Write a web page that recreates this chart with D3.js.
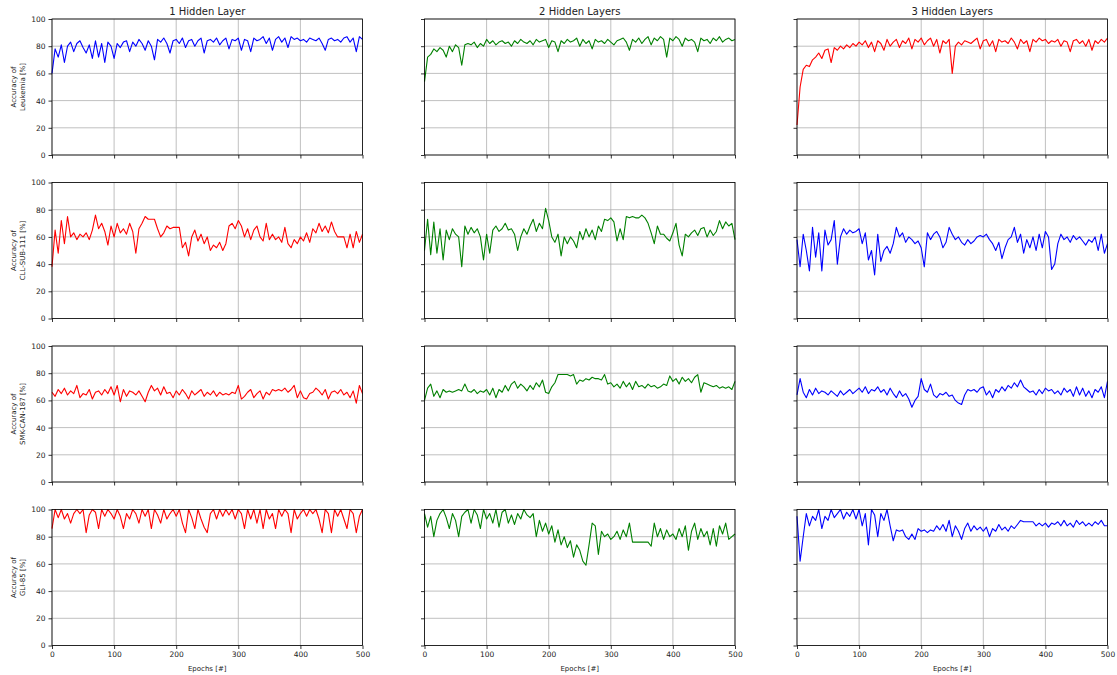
<!DOCTYPE html>
<html>
<head>
<meta charset="utf-8">
<script src="https://cdn.jsdelivr.net/npm/d3@7"></script>
<style>
  body { margin: 0; background: #fff; }
  text { font-family: "DejaVu Sans", sans-serif; fill: #222; }
</style>
</head>
<body>
<script>
// column titles, row labels and tick values
const colTitles = ['1 Hidden Layer', '2 Hidden Layers', '3 Hidden Layers'];
const rowLabels = [
  ['Accuracy of', 'Leukemia [%]'],
  ['Accuracy of', 'CLL-SUB-111 [%]'],
  ['Accuracy of', 'SMK-CAN-187 [%]'],
  ['Accuracy of', 'GLI-85 [%]']
];
const yTicks = [0, 20, 40, 60, 80, 100];
const xTicks = [0, 100, 200, 300, 400, 500];
const epochStep = 5; // one value read every 5 epochs

// accuracy values, epochs 0..500
const leuk1 = [60,78,72,81,68,80,83,76,82,84,79,75,81,71,84,72,82,68,83,80,71,82,79,83,84,76,83,80,85,82,77,84,80,70,85,83,86,82,75,84,85,82,86,79,84,85,80,84,86,75,84,85,83,86,81,84,86,78,85,84,86,77,85,84,76,86,84,85,87,82,86,77,85,87,83,86,79,87,85,86,84,85,83,86,85,84,86,82,77,85,86,84,85,83,86,87,83,86,76,87,85];
const leuk2 = [54,72,74,78,76,79,77,72,80,76,81,79,66,81,82,81,83,79,82,80,85,82,84,81,83,84,82,83,80,84,82,85,83,82,84,81,85,83,84,85,79,84,83,76,84,82,85,83,84,86,80,85,82,84,78,85,83,84,82,85,83,81,84,85,86,83,77,85,83,86,82,85,87,81,86,84,87,85,72,86,84,87,85,80,86,84,85,83,76,86,84,85,82,86,84,87,83,85,86,84,85];
const leuk3 = [22,50,63,66,65,70,72,75,71,77,78,68,79,77,80,78,81,79,82,80,83,81,84,79,83,76,84,82,77,85,80,83,85,79,84,82,86,78,85,83,86,81,84,86,80,85,75,84,82,85,60,80,83,81,84,83,82,84,86,78,84,85,80,84,76,85,83,84,82,86,83,78,85,82,84,76,85,83,86,84,85,82,84,83,85,80,84,83,76,84,85,82,84,80,85,77,84,82,85,83,86];
const cll1 = [38,65,48,72,55,75,60,63,58,62,60,63,58,65,76,66,70,64,54,68,60,70,63,66,62,70,64,48,66,70,75,73,73,73,66,60,63,68,66,67,67,67,52,56,46,60,65,57,62,55,60,50,54,52,56,50,55,68,70,66,72,68,60,66,58,65,68,60,57,70,58,62,58,60,56,67,55,52,58,55,60,57,63,56,66,63,70,64,68,63,71,64,60,60,60,52,62,52,64,56,62];
const cll2 = [50,73,47,71,48,66,43,65,58,66,62,60,38,68,62,67,63,66,60,43,62,48,65,68,64,66,70,65,66,62,50,60,66,62,68,73,64,70,66,81,72,60,56,62,46,60,55,60,57,52,64,58,66,60,65,58,68,64,73,72,74,71,57,66,58,75,74,75,74,74,76,74,70,63,55,68,62,62,59,57,63,70,54,46,62,60,63,65,61,66,67,60,65,61,64,72,66,71,68,70,58];
const cll3 = [58,38,62,50,35,67,45,63,35,65,54,58,72,40,60,66,62,65,63,64,66,55,63,43,50,32,62,42,50,53,48,55,67,60,63,56,60,58,55,57,52,38,63,58,62,64,60,52,56,67,62,58,60,56,54,58,55,57,60,61,60,62,58,55,50,56,44,52,58,60,67,56,62,48,58,52,60,50,62,52,64,60,36,40,55,62,58,60,56,61,58,60,57,54,58,56,60,50,62,48,55];
const smk1 = [66,63,68,65,69,64,67,65,71,62,65,64,68,61,66,67,64,68,65,70,64,71,59,68,63,67,66,64,67,63,59,66,71,67,69,64,70,65,66,62,67,64,68,65,61,67,64,66,68,63,66,64,67,63,66,64,65,64,66,65,71,61,63,66,68,62,65,67,61,66,64,68,67,68,67,69,66,68,71,62,67,62,61,65,66,69,67,64,68,61,66,67,65,68,64,66,62,67,58,71,65];
const smk2 = [60,69,72,63,67,62,68,66,67,66,67,68,67,72,67,66,68,65,67,66,68,64,69,62,68,66,71,67,72,74,69,72,70,67,71,68,73,70,75,66,65,70,73,79,79,79,79,78,79,72,75,74,76,75,77,76,76,75,79,72,73,70,72,69,74,70,73,68,74,70,71,69,72,70,71,69,70,72,71,78,74,76,72,77,74,76,73,77,79,66,73,72,71,70,71,69,70,69,70,68,74];
const smk3 = [64,76,66,62,68,64,69,65,67,66,64,67,65,63,67,64,66,68,65,67,69,66,70,65,68,67,70,66,68,64,69,65,62,67,63,65,61,55,60,63,76,68,66,72,64,62,65,64,66,63,64,60,58,57,64,68,67,68,66,69,70,64,67,62,68,66,70,67,71,69,73,70,75,70,68,66,67,64,68,65,69,67,68,65,67,64,69,66,68,63,70,64,69,63,67,62,68,66,70,62,74];
const gli1 = [86,100,94,100,93,97,90,97,100,97,100,83,96,100,98,86,100,95,100,97,93,100,95,86,97,93,100,97,90,100,95,100,86,100,96,90,100,93,97,100,95,100,90,83,100,94,86,100,93,87,83,97,100,93,100,95,100,96,100,93,100,97,86,100,93,100,90,100,86,100,93,97,86,100,95,100,97,83,100,93,97,100,95,100,97,100,93,83,100,97,83,100,95,100,93,86,100,97,83,95,100];
const gli2 = [97,87,95,80,92,97,100,94,86,97,92,80,95,98,100,90,100,96,86,100,93,97,90,100,87,98,100,90,96,89,97,93,100,96,94,97,80,92,84,90,82,88,76,85,74,80,72,77,65,74,70,62,59,74,90,88,67,84,80,82,78,80,84,78,85,80,90,76,76,76,76,76,76,73,90,80,86,78,85,80,82,78,86,80,88,70,84,90,78,86,80,84,74,86,73,88,82,90,78,80,82];
const gli3 = [95,62,80,97,88,95,92,100,86,95,92,100,94,97,100,93,98,95,100,93,100,88,97,74,100,96,80,97,92,100,88,77,85,84,85,80,78,82,78,86,84,85,83,85,84,88,85,89,84,92,80,88,84,78,86,90,84,88,85,87,84,87,80,86,84,89,85,87,84,88,86,89,92,91,91,91,91,88,90,88,90,87,90,89,91,88,92,88,90,87,92,89,91,88,90,88,91,89,92,88,88];

const grid = [
  [leuk1, leuk2, leuk3],
  [cll1, cll2, cll3],
  [smk1, smk2, smk3],
  [gli1, gli2, gli3]
];
const colors = [
  ['#0000ff', '#008000', '#ff0000'],
  ['#ff0000', '#008000', '#0000ff'],
  ['#ff0000', '#008000', '#0000ff'],
  ['#ff0000', '#008000', '#0000ff']
];

const width = 1117;
const height = 675;
const colLeft = [52, 424.5, 797];
const rowTop = [19, 182.5, 346, 509.5];
const pw = 310.5;
const ph = 136;

const svg = d3.select('body')
  .append('svg')
  .attr('width', width)
  .attr('height', height);

const x = d3.scaleLinear().domain([0, 500]).range([0, pw]);
const y = d3.scaleLinear().domain([0, 100]).range([ph, 0]);

grid.forEach((row, r) => {
  row.forEach((vals, c) => {
    const g = svg.append('g')
      .attr('transform', `translate(${colLeft[c]},${rowTop[r]})`);

    // grid lines
    g.selectAll('.vg').data(xTicks).enter().append('line')
      .attr('x1', d => x(d)).attr('x2', d => x(d))
      .attr('y1', 0).attr('y2', ph)
      .attr('stroke', '#b0b0b0').attr('stroke-width', 0.8);
    g.selectAll('.hg').data(yTicks).enter().append('line')
      .attr('x1', 0).attr('x2', pw)
      .attr('y1', d => y(d)).attr('y2', d => y(d))
      .attr('stroke', '#b0b0b0').attr('stroke-width', 0.8);

    // the series
    const line = d3.line()
      .x((d, i) => x(i * epochStep))
      .y(d => y(d));
    g.append('path')
      .datum(vals)
      .attr('d', line)
      .attr('fill', 'none')
      .attr('stroke', colors[r][c])
      .attr('stroke-width', 1.1)
      .attr('stroke-linejoin', 'round');

    // axes
    const yAxis = d3.axisLeft(y).tickValues(yTicks).tickSize(3.5).tickPadding(3);
    if (c > 0) yAxis.tickFormat('');
    const ya = g.append('g').call(yAxis);
    const xAxis = d3.axisBottom(x).tickValues(xTicks).tickSize(3.5).tickPadding(3);
    if (r < grid.length - 1) xAxis.tickFormat('');
    const xa = g.append('g').attr('transform', `translate(0,${ph})`).call(xAxis);
    [ya, xa].forEach(a => {
      a.select('.domain').remove();
      a.selectAll('line').attr('stroke', '#000').attr('stroke-width', 0.8);
      a.selectAll('text').attr('font-size', 7.5).attr('fill', '#222')
        .attr('font-family', '"DejaVu Sans", sans-serif');
    });

    // frame
    g.append('rect')
      .attr('width', pw).attr('height', ph)
      .attr('fill', 'none').attr('stroke', '#000').attr('stroke-width', 0.8);

    if (r === 0) {
      g.append('text')
        .attr('x', pw / 2).attr('y', -4)
        .attr('text-anchor', 'middle')
        .attr('font-size', 10)
        .text(colTitles[c]);
    }
    if (r === grid.length - 1) {
      g.append('text')
        .attr('x', pw / 2).attr('y', ph + 25)
        .attr('text-anchor', 'middle')
        .attr('font-size', 7)
        .text('Epochs [#]');
    }
    if (c === 0) {
      const t = g.append('text')
        .attr('transform', `translate(-35,${ph / 2}) rotate(-90)`)
        .attr('text-anchor', 'middle')
        .attr('font-size', 7);
      rowLabels[r].forEach((s, k) => {
        t.append('tspan').attr('x', 0).attr('dy', k === 0 ? -1 : 8.5).text(s);
      });
    }
  });
});
</script>
</body>
</html>
